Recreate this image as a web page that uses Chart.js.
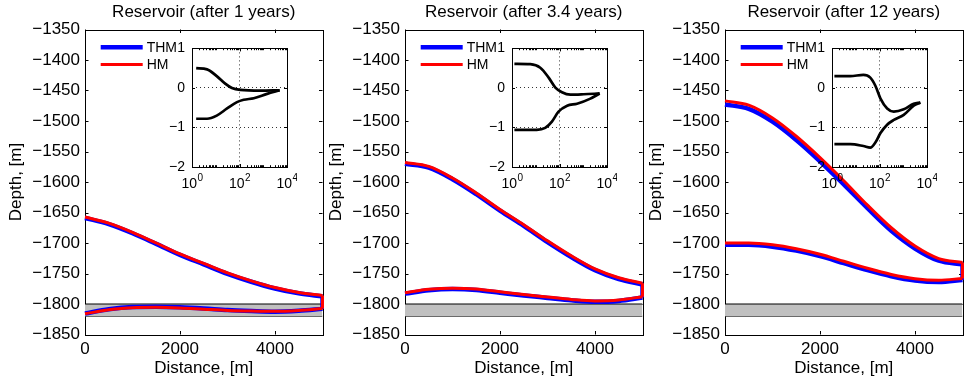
<!DOCTYPE html>
<html>
<head>
<meta charset="utf-8">
<script src="https://cdn.jsdelivr.net/npm/chart.js@4.4.0/dist/chart.umd.min.js"></script>
<style>
  body { margin: 0; background: #fff; }
  #wrap { position: relative; width: 964px; height: 384px; overflow: hidden; }
  canvas { position: absolute; }
  canvas.inset { z-index: 2; }
</style>
</head>
<body>
<div id="wrap"></div>
<script>
// === Data ===
const titles = ['Reservoir (after 1 years)', 'Reservoir (after 3.4 years)', 'Reservoir (after 12 years)'];
const distance = [0, 500, 1000, 1500, 2000, 2500, 3000, 3500, 4000, 4500, 5000];

// after 1 year
const hmTop1  = [-1657.5, -1667.5, -1682.5, -1700, -1718, -1733.5, -1749, -1762, -1773, -1781, -1786];
const thmTop1 = [-1659, -1669, -1684, -1701.5, -1719.5, -1735, -1750.5, -1763.5, -1774.5, -1782.5, -1787.5];
const hmBot1  = [-1816, -1809.5, -1806, -1805.5, -1806.5, -1808.5, -1810.5, -1811.5, -1812, -1810.5, -1807.5];
const thmBot1 = [-1815.5, -1808.5, -1805, -1804.5, -1805.5, -1807.5, -1810, -1811.5, -1812.5, -1811, -1808];
// after 3.4 years
const hmTop2  = [-1568, -1574.5, -1593.5, -1618, -1645, -1670, -1696.5, -1721, -1742.5, -1757, -1766];
const thmTop2 = [-1570, -1576.5, -1595.5, -1620, -1647, -1672, -1698.5, -1723, -1744.5, -1759, -1768];
const hmBot2  = [-1781.5, -1776, -1774, -1775.5, -1780, -1784.5, -1788.5, -1792.5, -1795, -1793.5, -1788];
const thmBot2 = [-1783, -1777.5, -1775.5, -1777, -1781.5, -1786, -1790, -1794, -1796.5, -1795, -1789.5];
// after 12 years
const hmTop3  = [-1467, -1474, -1495, -1525, -1560, -1598, -1638, -1675, -1705, -1725.5, -1732];
const thmTop3 = [-1473, -1480, -1501, -1531, -1566, -1604, -1643, -1680, -1709, -1729, -1735];
const hmBot3  = [-1700, -1700, -1703, -1709.5, -1718.5, -1730, -1741.5, -1751.5, -1758.5, -1761, -1758];
const thmBot3 = [-1703, -1703, -1706, -1712.5, -1721.5, -1733, -1744.5, -1754.5, -1761.5, -1764, -1760.5];

const layerTop = -1800, layerBottom = -1820;
const depthTicks = [-1850, -1800, -1750, -1700, -1650, -1600, -1550, -1500, -1450, -1400, -1350];
const distanceTicks = [0, 2000, 4000];

// insets (log x)
const insetTicksX = [1, 100, 10000];
const insetTicksY = [-2, -1, 0, 1];
const upX1 = [1.5, 4.3, 11, 25, 48, 109, 760, 4900];
const upY1 = [0.50, 0.47, 0.30, 0.11, 0.0, -0.05, -0.07, -0.06];
const loX1 = [1.5, 4.3, 11, 30, 78, 150, 400, 1450, 4900];
const loY1 = [-0.78, -0.78, -0.70, -0.52, -0.36, -0.30, -0.26, -0.15, -0.06];
const upX2 = [1.26, 5.9, 15.5, 35, 67, 127, 288, 1040, 4900];
const upY2 = [0.61, 0.60, 0.51, 0.26, 0.01, -0.11, -0.17, -0.16, -0.14];
const loX2 = [1.26, 11, 25, 48, 91, 210, 550, 2000, 4900];
const loY2 = [-1.06, -1.06, -1.01, -0.85, -0.60, -0.45, -0.40, -0.27, -0.14];
const upX3 = [1.26, 5.9, 21, 41, 67, 110, 210, 400, 1050, 2750, 5250];
const upY3 = [0.30, 0.30, 0.33, 0.26, 0.055, -0.27, -0.52, -0.60, -0.54, -0.40, -0.37];
const loX3 = [1.26, 5.9, 21, 41, 67, 110, 210, 400, 1050, 2750, 5250];
const loY3 = [-1.42, -1.42, -1.47, -1.51, -1.38, -1.14, -0.93, -0.81, -0.68, -0.45, -0.37];

const panels = [
  { hmTop: hmTop1, thmTop: thmTop1, hmBot: hmBot1, thmBot: thmBot1, upX: upX1, upY: upY1, loX: loX1, loY: loY1 },
  { hmTop: hmTop2, thmTop: thmTop2, hmBot: hmBot2, thmBot: thmBot2, upX: upX2, upY: upY2, loX: loX2, loY: loY2 },
  { hmTop: hmTop3, thmTop: thmTop3, hmBot: hmBot3, thmBot: thmBot3, upX: upX3, upY: upY3, loX: loX3, loY: loY3 }
];

const FAMILY = '"Liberation Sans", Arial, Helvetica, sans-serif';
const mainFont = { family: FAMILY, size: 17 };
const smallFont = { family: FAMILY, size: 14 };
const minus = v => (v < 0 ? '\u2212' + Math.abs(v) : String(v));

// === Plugins: MATLAB style box with inward ticks, legend, inset labels ===
function drawBox(chart, opts) {
  const { ctx, chartArea: a, scales: { x, y } } = chart;
  const L = opts.tickLen || 3.5;
  const px = v => Math.round(v) + 0.5;
  ctx.save();
  ctx.strokeStyle = '#000';
  ctx.lineWidth = 1;
  ctx.strokeRect(px(a.left), px(a.top), Math.round(a.right) - Math.round(a.left), Math.round(a.bottom) - Math.round(a.top));
  ctx.beginPath();
  y.ticks.forEach(t => {
    const p = px(y.getPixelForValue(t.value));
    ctx.moveTo(a.left, p); ctx.lineTo(a.left + L, p);
    ctx.moveTo(a.right, p); ctx.lineTo(a.right - L, p);
  });
  const xt = x.ticks.map(t => [t.value, L]).concat((opts.minorX || []).map(v => [v, L * 0.6]));
  xt.forEach(([v, len]) => {
    const p = px(x.getPixelForValue(v));
    ctx.moveTo(p, a.bottom); ctx.lineTo(p, a.bottom - len);
    ctx.moveTo(p, a.top); ctx.lineTo(p, a.top + len);
  });
  ctx.stroke();
  ctx.restore();
}

const boxPlugin = {
  id: 'matBox',
  beforeDraw(chart, args, opts) {
    if (!opts.fill) return;
    const { ctx, chartArea: a } = chart;
    ctx.save();
    ctx.fillStyle = opts.fill;
    ctx.fillRect(a.left, a.top, a.width, a.height);
    ctx.restore();
  },
  beforeDatasetsDraw(chart, args, opts) { if (!opts.onTop) drawBox(chart, opts); },
  afterDatasetsDraw(chart, args, opts) { if (opts.onTop) drawBox(chart, opts); }
};

const keyPlugin = {
  id: 'matKey',
  afterDatasetsDraw(chart) {
    const { ctx, chartArea: a } = chart;
    const items = chart.data.datasets.filter(d => d.key);
    ctx.save();
    ctx.font = '14px ' + FAMILY;
    ctx.textBaseline = 'middle';
    items.forEach((d, k) => {
      const yy = a.top + 17.8 + k * 17.2;
      ctx.strokeStyle = d.borderColor;
      ctx.lineWidth = d.borderWidth;
      ctx.beginPath();
      ctx.moveTo(a.left + 15.7, yy);
      ctx.lineTo(a.left + 57.7, yy);
      ctx.stroke();
      ctx.fillStyle = '#000';
      ctx.fillText(d.label, a.left + 61.7, yy + 0.5);
    });
    ctx.restore();
  }
};

const powerLabels = {
  id: 'powerLabels',
  afterDraw(chart) {
    const { ctx, chartArea: a, scales: { x } } = chart;
    ctx.save();
    ctx.fillStyle = '#000';
    ctx.textBaseline = 'middle';
    ctx.textAlign = 'left';
    insetTicksX.forEach(v => {
      const p = x.getPixelForValue(v);
      const ex = String(Math.round(Math.log10(v)));
      ctx.font = '14px ' + FAMILY;
      const wb = ctx.measureText('10').width;
      ctx.font = '10px ' + FAMILY;
      const we = ctx.measureText(ex).width;
      const x0 = p - (wb + we) / 2;
      ctx.font = '14px ' + FAMILY;
      ctx.fillText('10', x0, a.bottom + 17);
      ctx.font = '10px ' + FAMILY;
      ctx.fillText(ex, x0 + wb + 0.5, a.bottom + 11);
    });
    ctx.restore();
  }
};

function line(label, xs, ys, color, width, order, extra) {
  return Object.assign({
    label,
    data: xs.map((x, k) => ({ x, y: ys[k] })),
    borderColor: color,
    borderWidth: width,
    pointRadius: 0,
    fill: false,
    cubicInterpolationMode: 'monotone',
    clip: false,
    order
  }, extra || {});
}

const wrap = document.getElementById('wrap');
function addCanvas(left, top, w, h, cls) {
  const c = document.createElement('canvas');
  c.width = w; c.height = h;
  c.style.left = left + 'px'; c.style.top = top + 'px';
  c.style.width = w + 'px'; c.style.height = h + 'px';
  if (cls) c.className = cls;
  wrap.appendChild(c);
  return c;
}

const xEnd = distance[distance.length - 1];
const x0 = distance[0];

panels.forEach((p, i) => {
  // === Main panel ===
  const cv = addCanvas(320 * i, 0, 324, 384);
  const n = distance.length - 1;
  const datasets = [
    line('', [x0, xEnd], [layerTop, layerTop], '#000', 1, 10, { fill: '+1', backgroundColor: '#c0c0c0', cubicInterpolationMode: 'default', clip: 0 }),
    line('', [x0, xEnd], [layerBottom, layerBottom], '#000', 1, 11, { cubicInterpolationMode: 'default', clip: 0 }),
    line('THM', distance, p.thmTop, '#0000ff', 4.5, 2, { key: true }),
    line('THM', distance, p.thmBot, '#0000ff', 4.5, 2),
    line('THM', [xEnd, xEnd], [p.thmTop[n], p.thmBot[n]], '#0000ff', 4.5, 2, { cubicInterpolationMode: 'default' }),
    line('HM', distance, p.hmTop, '#ff0000', 3, 1, { key: true }),
    line('HM', distance, p.hmBot, '#ff0000', 3, 1),
    line('HM', [xEnd, xEnd], [p.hmTop[n], p.hmBot[n]], '#ff0000', 3, 1, { cubicInterpolationMode: 'default' })
  ];

  new Chart(cv, {
    type: 'line',
    data: { datasets },
    options: {
      responsive: false,
      animation: false,
      devicePixelRatio: 1,
      layout: { padding: { left: 0, right: 1.5, top: 0, bottom: 0 } },
      plugins: {
        legend: { display: false },
        tooltip: { enabled: false },
        title: { display: true, fullSize: false, text: titles[i], color: '#000', font: Object.assign({ weight: 'normal' }, mainFont), padding: { top: 1.8, bottom: 7.3 } },
        matBox: { tickLen: 3.5, onTop: false }
      },
      scales: {
        x: {
          type: 'linear', min: x0, max: xEnd,
          afterBuildTicks: s => { s.ticks = distanceTicks.map(v => ({ value: v })); },
          afterFit: s => { s.height = 49.5; },
          grid: { display: false, drawTicks: false },
          border: { display: false },
          ticks: { color: '#000', font: mainFont, padding: 5, maxRotation: 0, autoSkip: false, callback: v => String(v) },
          title: { display: true, text: 'Distance, [m]', color: '#000', font: mainFont, padding: { top: 0, bottom: 5.5 } }
        },
        y: {
          type: 'linear', min: depthTicks[0], max: depthTicks[depthTicks.length - 1],
          afterBuildTicks: s => { s.ticks = depthTicks.map(v => ({ value: v })); },
          afterFit: s => { s.width = 85; },
          grid: { display: false, drawTicks: false },
          border: { display: false },
          ticks: { color: '#000', font: mainFont, padding: 5, autoSkip: false, callback: v => minus(v) },
          title: { display: true, text: 'Depth, [m]', color: '#000', font: mainFont, padding: { top: 6.5, bottom: 0 } }
        }
      }
    },
    plugins: [boxPlugin, keyPlugin]
  });

  // === Inset ===
  const ic = addCanvas(150 + 320 * i, 33, 147, 160, 'inset');
  const minor = [];
  for (let d = 1; d < 10000; d *= 10) for (let m = 2; m <= 9; m++) minor.push(d * m);
  minor.push(10, 1000);
  new Chart(ic, {
    type: 'line',
    data: {
      datasets: [
        line('upper', p.upX, p.upY, '#000', 2.7, 1, { clip: 2 }),
        line('lower', p.loX, p.loY, '#000', 2.7, 1, { clip: 2 })
      ]
    },
    options: {
      responsive: false,
      animation: false,
      devicePixelRatio: 1,
      layout: { padding: { left: 0, right: 10, top: 12, bottom: 0 } },
      plugins: {
        legend: { display: false },
        tooltip: { enabled: false },
        matBox: { fill: '#fff', onTop: true, tickLen: 3, minorX: minor }
      },
      scales: {
        x: {
          type: 'logarithmic', min: insetTicksX[0], max: insetTicksX[insetTicksX.length - 1],
          afterBuildTicks: s => { s.ticks = insetTicksX.map(v => ({ value: v })); },
          afterFit: s => { s.height = 26; },
          grid: { color: '#333', lineWidth: 1, drawTicks: false },
          border: { display: false, dash: [1, 3] },
          ticks: { display: false }
        },
        y: {
          type: 'linear', min: insetTicksY[0], max: insetTicksY[insetTicksY.length - 1],
          afterBuildTicks: s => { s.ticks = insetTicksY.map(v => ({ value: v })); },
          afterFit: s => { s.width = 42; },
          grid: { color: '#333', lineWidth: 1, drawTicks: false },
          border: { display: false, dash: [1, 3] },
          ticks: { color: '#000', font: smallFont, padding: 7, autoSkip: false, callback: v => minus(v) }
        }
      }
    },
    plugins: [boxPlugin, powerLabels]
  });
});
</script>
</body>
</html>
